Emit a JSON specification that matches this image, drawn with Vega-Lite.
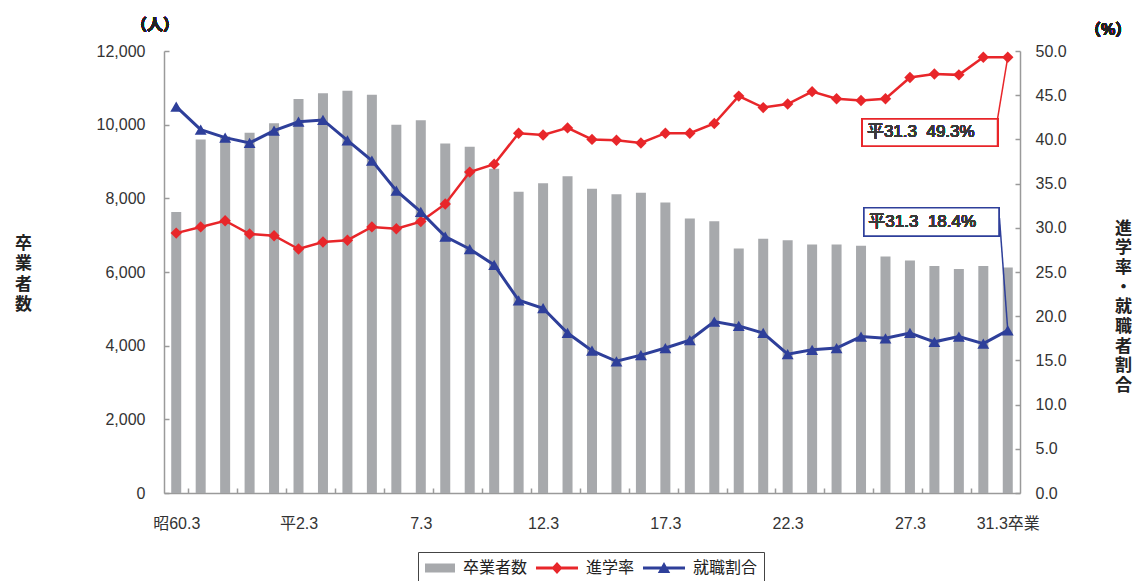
{
  "$schema": "https://vega.github.io/schema/vega-lite/v6.json",
  "width": 856,
  "height": 442,
  "autosize": {"type": "none"},
  "padding": {"left": 164, "top": 51, "right": 116, "bottom": 88},
  "background": "white",
  "config": {
    "font": "Liberation Sans, Noto Sans CJK JP",
    "view": {"stroke": null},
    "axis": {
      "grid": false,
      "domainColor": "#9a9a9a",
      "domainWidth": 1.5,
      "tickColor": "#9a9a9a",
      "tickWidth": 1.5,
      "labelColor": "#333333",
      "labelFontSize": 16,
      "titleColor": "#222222"
    }
  },
  "data": {
    "values": [
      {"n": 1, "年": "昭60", "卒業者数": 7630, "進学率": 29.4, "就職割合": 43.7},
      {"n": 2, "年": "昭61", "卒業者数": 9600, "進学率": 30.1, "就職割合": 41.1},
      {"n": 3, "年": "昭62", "卒業者数": 9680, "進学率": 30.8, "就職割合": 40.2},
      {"n": 4, "年": "昭63", "卒業者数": 9780, "進学率": 29.3, "就職割合": 39.6},
      {"n": 5, "年": "平1", "卒業者数": 10040, "進学率": 29.1, "就職割合": 41.0},
      {"n": 6, "年": "平2", "卒業者数": 10700, "進学率": 27.6, "就職割合": 42.0},
      {"n": 7, "年": "平3", "卒業者数": 10850, "進学率": 28.4, "就職割合": 42.2},
      {"n": 8, "年": "平4", "卒業者数": 10920, "進学率": 28.6, "就職割合": 39.9},
      {"n": 9, "年": "平5", "卒業者数": 10810, "進学率": 30.1, "就職割合": 37.6},
      {"n": 10, "年": "平6", "卒業者数": 10000, "進学率": 29.9, "就職割合": 34.2},
      {"n": 11, "年": "平7", "卒業者数": 10120, "進学率": 30.7, "就職割合": 31.8},
      {"n": 12, "年": "平8", "卒業者数": 9490, "進学率": 32.7, "就職割合": 29.0},
      {"n": 13, "年": "平9", "卒業者数": 9400, "進学率": 36.3, "就職割合": 27.6},
      {"n": 14, "年": "平10", "卒業者数": 8800, "進学率": 37.2, "就職割合": 25.8},
      {"n": 15, "年": "平11", "卒業者数": 8180, "進学率": 40.7, "就職割合": 21.8},
      {"n": 16, "年": "平12", "卒業者数": 8410, "進学率": 40.5, "就職割合": 20.9},
      {"n": 17, "年": "平13", "卒業者数": 8600, "進学率": 41.3, "就職割合": 18.1},
      {"n": 18, "年": "平14", "卒業者数": 8260, "進学率": 40.0, "就職割合": 16.1},
      {"n": 19, "年": "平15", "卒業者数": 8110, "進学率": 39.9, "就職割合": 14.9},
      {"n": 20, "年": "平16", "卒業者数": 8150, "進学率": 39.6, "就職割合": 15.6},
      {"n": 21, "年": "平17", "卒業者数": 7890, "進学率": 40.7, "就職割合": 16.4},
      {"n": 22, "年": "平18", "卒業者数": 7450, "進学率": 40.7, "就職割合": 17.3},
      {"n": 23, "年": "平19", "卒業者数": 7380, "進学率": 41.8, "就職割合": 19.4},
      {"n": 24, "年": "平20", "卒業者数": 6640, "進学率": 44.9, "就職割合": 18.9},
      {"n": 25, "年": "平21", "卒業者数": 6900, "進学率": 43.6, "就職割合": 18.1},
      {"n": 26, "年": "平22", "卒業者数": 6860, "進学率": 44.0, "就職割合": 15.7},
      {"n": 27, "年": "平23", "卒業者数": 6750, "進学率": 45.4, "就職割合": 16.2},
      {"n": 28, "年": "平24", "卒業者数": 6750, "進学率": 44.6, "就職割合": 16.4},
      {"n": 29, "年": "平25", "卒業者数": 6710, "進学率": 44.4, "就職割合": 17.7},
      {"n": 30, "年": "平26", "卒業者数": 6420, "進学率": 44.6, "就職割合": 17.5},
      {"n": 31, "年": "平27", "卒業者数": 6310, "進学率": 47.0, "就職割合": 18.1},
      {"n": 32, "年": "平28", "卒業者数": 6160, "進学率": 47.4, "就職割合": 17.1},
      {"n": 33, "年": "平29", "卒業者数": 6080, "進学率": 47.3, "就職割合": 17.7},
      {"n": 34, "年": "平30", "卒業者数": 6160, "進学率": 49.3, "就職割合": 16.9},
      {"n": 35, "年": "平31", "卒業者数": 6120, "進学率": 49.3, "就職割合": 18.4}
    ]
  },
  "layer": [
    {
      "layer": [
        {
          "mark": {"type": "bar", "width": 10},
          "encoding": {
            "x": {
              "field": "n",
              "type": "quantitative",
              "scale": {"domain": [0.5, 35.5], "nice": false, "zero": false, "padding": 0},
              "axis": {
                "orient": "bottom",
                "title": "",
                "values": [1, 6, 11, 16, 21, 26, 31, 35],
                "labelExpr": "datum.value == 1 ? '昭60.3' : datum.value == 6 ? '平2.3' : datum.value > 34.9 ? '31.3卒業' : (datum.value - 4) + '.3'",
                "labelOverlap": false,
                "labelFlush": false,
                "labelFontSize": 16,
                "labelPadding": 22,
                "ticks": false
              }
            },
            "y": {
              "field": "卒業者数",
              "type": "quantitative",
              "scale": {"domain": [0, 12000], "nice": false},
              "axis": {
                "orient": "left",
                "values": [0, 2000, 4000, 6000, 8000, 10000, 12000],
                "labelExpr": "format(datum.value, ',')",
                "tickSize": -5,
                "labelPadding": 24,
                "title": ["卒", "業", "者", "数"],
                "titleAngle": 0,
                "titleX": -141,
                "titleY": 192,
                "titleAlign": "center",
                "titleBaseline": "middle",
                "titleFontSize": 17,
                "titleFontWeight": "bold",
                "titleLineHeight": 20.5
              }
            },
            "color": {
              "datum": "卒業者数",
              "scale": {
                "domain": ["卒業者数", "進学率", "就職割合"],
                "range": ["#a7a9ac", "#e8262a", "#2e3f9a"]
              },
              "legend": {
                "title": null,
                "orient": "none",
                "legendX": 254,
                "legendY": 501,
                "direction": "horizontal",
                "strokeColor": "#444444",
                "padding": 6,
                "symbolSize": 400,
                "symbolStrokeWidth": 0,
                "labelFontSize": 16,
                "labelColor": "#222222",
                "labelOffset": 19,
                "columnPadding": 8,
                "encode": {
                  "symbols": {
                    "update": {
                      "shape": {"signal": "datum.value === '卒業者数' ? 'M-0.9,-0.45H2.1V0.45H-0.9Z' : datum.value === '進学率' ? 'M-2.1,-0.14H2.1V0.14H-2.1Z M0,-0.6L0.55,0L0,0.6L-0.55,0Z' : 'M-2.1,-0.15H2.1V0.15H-2.1Z M0,-0.6L0.62,0.5L-0.62,0.5Z'"},
                      "fill": {"scale": "color", "field": "value"},
                      "stroke": {"value": "transparent"},
                      "strokeWidth": {"value": 0},
                      "opacity": {"value": 1}
                    }
                  }
                }
              }
            }
          }
        },
        {
          "mark": {"type": "text", "fontSize": 16, "fontWeight": "bold", "color": "#222222", "align": "center", "baseline": "middle"},
          "encoding": {
            "x": {"datum": 0.13, "type": "quantitative"},
            "y": {"datum": 12700, "type": "quantitative"},
            "text": {"value": "（人）"}
          }
        }
      ]
    },
    {
      "layer": [
        {
          "mark": {"type": "rule", "color": "#e8262a", "strokeWidth": 1.5},
          "transform": [{"filter": "datum.n == 35"}],
          "encoding": {
            "x": {"field": "n", "type": "quantitative"},
            "y": {"field": "進学率", "type": "quantitative"},
            "x2": {"datum": 34.58},
            "y2": {"datum": 42.3}
          }
        },
        {
          "mark": {"type": "rule", "color": "#2e3f9a", "strokeWidth": 1.5},
          "transform": [{"filter": "datum.n == 35"}],
          "encoding": {
            "x": {"field": "n", "type": "quantitative"},
            "y": {"field": "就職割合", "type": "quantitative"},
            "x2": {"datum": 34.66},
            "y2": {"datum": 31.1}
          }
        },
        {
          "mark": {"type": "rect", "fill": "white", "stroke": "#e8262a", "strokeWidth": 1.5},
          "encoding": {
            "x": {"datum": 29.05, "type": "quantitative"},
            "x2": {"datum": 34.58},
            "y": {"datum": 42.3, "type": "quantitative"},
            "y2": {"datum": 39.25}
          }
        },
        {
          "mark": {"type": "rect", "fill": "white", "stroke": "#2e3f9a", "strokeWidth": 1.5},
          "encoding": {
            "x": {"datum": 29.12, "type": "quantitative"},
            "x2": {"datum": 34.64},
            "y": {"datum": 32.27, "type": "quantitative"},
            "y2": {"datum": 29.07}
          }
        },
        {
          "mark": {"type": "text", "fontSize": 17, "fontWeight": "normal", "color": "#3a3a3a", "align": "left", "baseline": "middle"},
          "encoding": {
            "x": {"datum": 29.24, "type": "quantitative"},
            "y": {"datum": 40.8, "type": "quantitative"},
            "text": {"value": "平31.3\u00a0\u00a049.3%"}
          }
        },
        {
          "mark": {"type": "text", "fontSize": 17, "fontWeight": "normal", "color": "#3a3a3a", "align": "left", "baseline": "middle"},
          "encoding": {
            "x": {"datum": 29.3, "type": "quantitative"},
            "y": {"datum": 30.7, "type": "quantitative"},
            "text": {"value": "平31.3\u00a0\u00a018.4%"}
          }
        },
        {
          "mark": {"type": "line", "strokeWidth": 2.5, "point": {"shape": "diamond", "size": 130, "filled": true}},
          "encoding": {
            "x": {
              "field": "n",
              "type": "quantitative",
              "axis": {
                "orient": "bottom",
                "title": "",
                "values": [1.5, 2.5, 3.5, 4.5, 5.5, 6.5, 7.5, 8.5, 9.5, 10.5, 11.5, 12.5, 13.5, 14.5, 15.5, 16.5, 17.5, 18.5, 19.5, 20.5, 21.5, 22.5, 23.5, 24.5, 25.5, 26.5, 27.5, 28.5, 29.5, 30.5, 31.5, 32.5, 33.5, 34.5],
                "labels": false,
                "domain": false,
                "tickSize": -5
              }
            },
            "y": {
              "field": "進学率",
              "type": "quantitative",
              "scale": {"domain": [0, 50], "nice": false},
              "axis": {
                "orient": "right",
                "values": [0, 5, 10, 15, 20, 25, 30, 35, 40, 45, 50],
                "format": ".1f",
                "tickSize": -5,
                "labelPadding": 20,
                "title": ["進", "学", "率", "・", "就", "職", "者", "割", "合"],
                "titleAngle": 0,
                "titleX": 103,
                "titleY": 177,
                "titleAlign": "center",
                "titleBaseline": "middle",
                "titleFontSize": 17,
                "titleFontWeight": "bold",
                "titleLineHeight": 19.7
              }
            },
            "color": {"datum": "進学率"}
          }
        },
        {
          "mark": {"type": "line", "strokeWidth": 3, "point": {"shape": "triangle-up", "size": 140, "filled": true}},
          "encoding": {
            "x": {"field": "n", "type": "quantitative"},
            "y": {"field": "就職割合", "type": "quantitative"},
            "color": {"datum": "就職割合"}
          }
        },
        {
          "mark": {"type": "text", "fontSize": 16, "fontWeight": "bold", "color": "#222222", "align": "center", "baseline": "middle"},
          "encoding": {
            "x": {"datum": 39.1, "type": "quantitative"},
            "y": {"datum": 52.4, "type": "quantitative"},
            "text": {"value": "（%）"}
          }
        }
      ]
    }
  ],
  "resolve": {"scale": {"y": "independent"}, "axis": {"x": "independent"}}
}
